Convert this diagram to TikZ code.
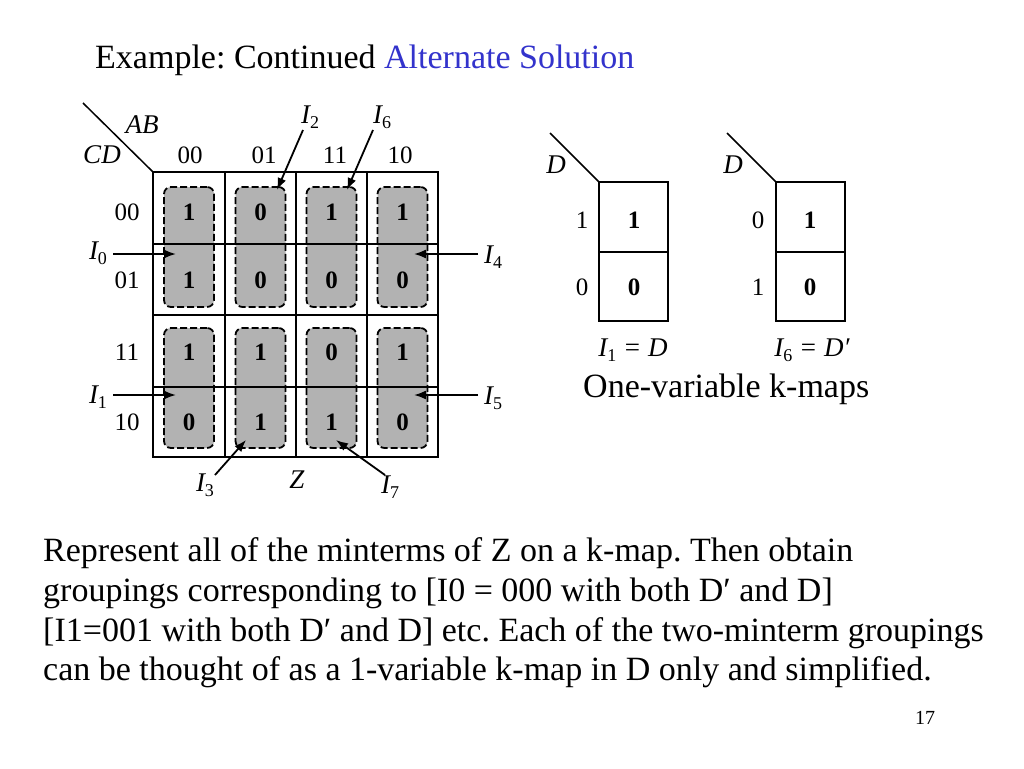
\documentclass[tikz,border=0pt]{standalone}
\usepackage{fontspec}
\setmainfont{Liberation Serif}
\usetikzlibrary{arrows.meta}
\definecolor{titleblue}{RGB}{51,51,204}
\newcommand\Isub[1]{\textit{I}\raisebox{-5pt}{\upshape\fontsize{18}{18}\selectfont #1}}
\frenchspacing
\begin{document}
\begin{tikzpicture}[x=1pt,y=-1pt,
  grid/.style={line width=1.8pt},
  diag/.style={line width=1.5pt},
  grp/.style={draw, dash pattern=on 7pt off 3pt, line width=1.8pt, rounded corners=7pt, fill=gray!60, minimum width=50pt, minimum height=120pt, inner sep=0pt},
  val/.style={font=\fontsize{25}{25}\selectfont\bfseries, inner sep=0pt},
  lab/.style={font=\fontsize{25}{25}\selectfont, inner sep=0pt},
  ital/.style={font=\fontsize{27}{27}\selectfont\itshape, inner sep=0pt},
  arr/.style={-{Latex[length=12pt,width=9pt]}, line width=1.8pt},
  body/.style={font=\fontsize{34}{34}\selectfont, anchor=base west, inner sep=0pt},
]
\useasboundingbox[fill=white] (0,0) rectangle (1024,768);
% title
\node[body] (title) at (95,68) {Example: Continued \textcolor{titleblue}{Alternate Solution}};
% groups
\foreach \c/\x in {1/189,2/260.5,3/331.5,4/402.5}{
  \node[grp] (gt\c) at (\x,247) {};
  \node[grp] (gb\c) at (\x,388) {};
}
% grid
\draw[grid] (153,172) rectangle (438,457);
\foreach \x in {225,296,367} \draw[grid] (\x,172) -- (\x,457);
\foreach \y in {244,315,387} \draw[grid] (153,\y) -- (438,\y);
\draw[diag] (83,103) -- (153,172);
\node[ital] (AB) at (142,125) {AB};
\node[ital] (CD) at (102,155) {CD};
% column labels
\node[lab] (c1) at (190,155) {00};
\node[lab] (c2) at (264,155) {01};
\node[lab] (c3) at (335,155) {11};
\node[lab] (c4) at (400,155) {10};
% row labels
\node[lab] (r1) at (127,212) {00};
\node[lab] (r2) at (127,280) {01};
\node[lab] (r3) at (127,352) {11};
\node[lab] (r4) at (127,422) {10};
% values
\foreach \y/\a/\b/\c/\d [count=\r] in {212/1/0/1/1, 280/1/0/0/0, 352/1/1/0/1, 422/0/1/1/0}{
  \node[val] (v\r1) at (189,\y) {\a};
  \node[val] (v\r2) at (260.5,\y) {\b};
  \node[val] (v\r3) at (331.5,\y) {\c};
  \node[val] (v\r4) at (402.5,\y) {\d};
}
% I labels
\node[ital] (I2) at (310,117) {\Isub{2}};
\node[ital] (I6) at (382,117) {\Isub{6}};
\node[ital] (I0) at (98,253) {\Isub{0}};
\node[ital] (I4) at (493,257) {\Isub{4}};
\node[ital] (I1) at (98,397) {\Isub{1}};
\node[ital] (I5) at (493,398) {\Isub{5}};
\node[ital] (I3) at (205,485) {\Isub{3}};
\node[ital] (I7) at (390,487) {\Isub{7}};
\node[ital] (Z) at (297,480) {Z};
% arrow ends
\coordinate (t2) at (303,130); \coordinate (h2) at (277,190);
\coordinate (t6) at (373,130); \coordinate (h6) at (347,190);
\coordinate (t0) at (113,254); \coordinate (h0) at (176,254);
\coordinate (t4) at (478,254); \coordinate (h4) at (414,254);
\coordinate (t1) at (113,395); \coordinate (h1) at (176,395);
\coordinate (t5) at (478,395); \coordinate (h5) at (414,395);
\coordinate (t3) at (215,475); \coordinate (h3) at (246,440);
\coordinate (t7) at (385,475); \coordinate (h7) at (336,440);
\foreach \i in {0,...,7} \draw[arr] (t\i) -- (h\i);
% one-variable map 1
\draw[grid] (599,182) rectangle (668,321);
\draw[grid] (599,252) -- (668,252);
\draw[diag] (550,133) -- (599,182);
\node[ital] (D1) at (556,165) {D};
\node[lab] (m1a) at (582,220) {1};
\node[lab] (m1b) at (582,287) {0};
\node[val] (m1c) at (634,220) {1};
\node[val] (m1d) at (634,287) {0};
\node[ital] (L1) at (633,350) {\Isub{1} = \textit{D}};
% one-variable map 2
\draw[grid] (776,182) rectangle (845,321);
\draw[grid] (776,252) -- (845,252);
\draw[diag] (727,133) -- (776,182);
\node[ital] (D2) at (733,165) {D};
\node[lab] (m2a) at (758,220) {0};
\node[lab] (m2b) at (758,287) {1};
\node[val] (m2c) at (810,220) {1};
\node[val] (m2d) at (810,287) {0};
\node[ital] (L2) at (812,350) {\Isub{6} = \textit{D}′};
\node[body] (onevar) at (583,397) {One-variable k-maps};
% body text
\node[body] (b1) at (43,561) {Represent all of the minterms of Z on a k-map. Then obtain};
\node[body] (b2) at (43,601) {groupings corresponding to [I0 = 000 with both D′ and D]};
\node[body] (b3) at (43,641) {[I1=001 with both D′ and D] etc. Each of the two-minterm groupings};
\node[body] (b4) at (43,680) {can be thought of as a 1-variable k-map in D only and simplified.};
\node[font=\fontsize{20}{20}\selectfont, anchor=base] (pg) at (925,724) {17};
\end{tikzpicture}
\end{document}
